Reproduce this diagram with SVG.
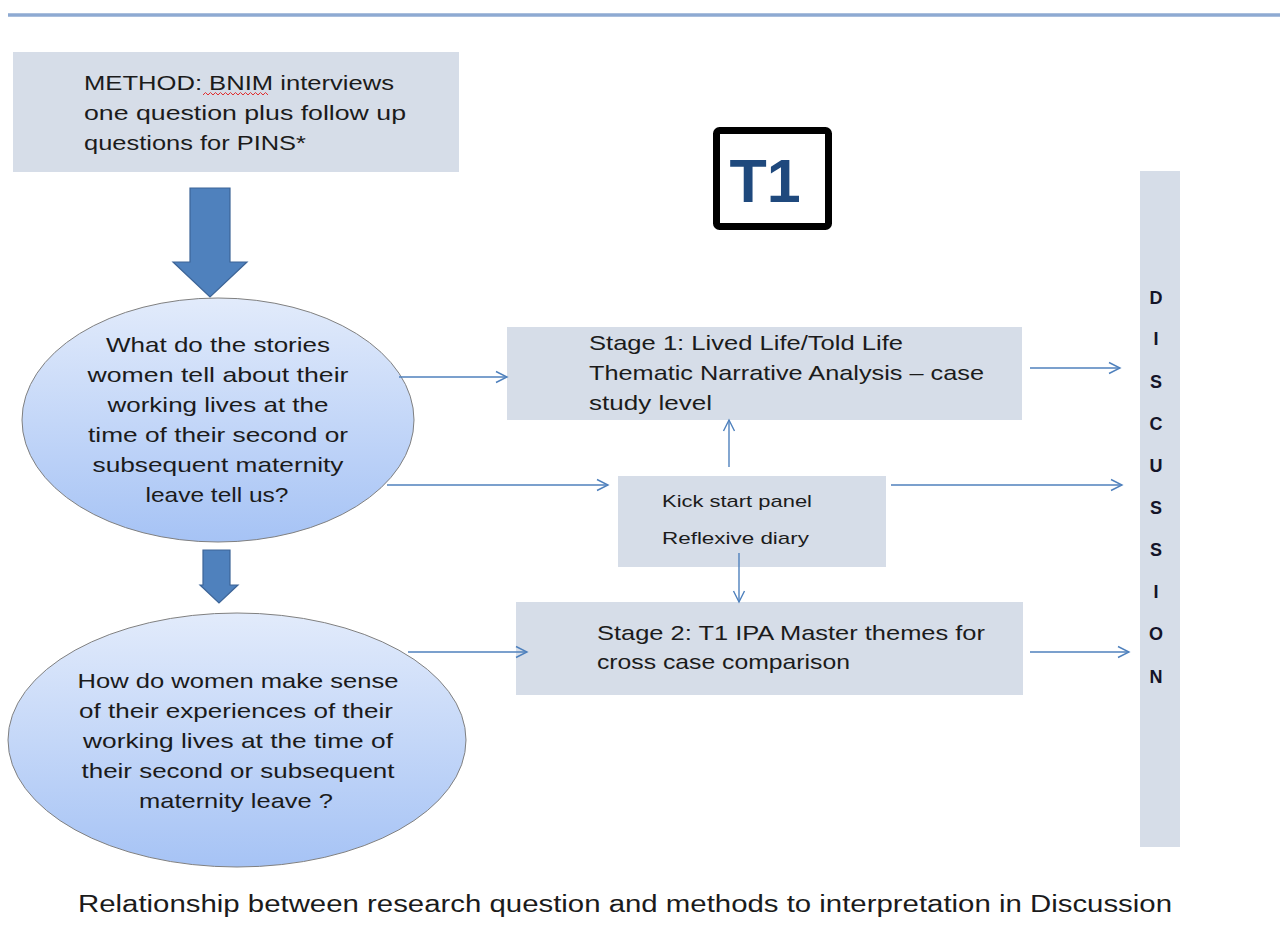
<svg xmlns="http://www.w3.org/2000/svg" width="1280" height="945" viewBox="0 0 1280 945">
<defs>
<linearGradient id="ellGrad" x1="0" y1="0" x2="0" y2="1">
<stop offset="0" stop-color="#e2ebfb"/>
<stop offset="1" stop-color="#a6c3f5"/>
</linearGradient>
<marker id="arr" markerUnits="userSpaceOnUse" markerWidth="14" markerHeight="14" viewBox="0 0 14 14" refX="12" refY="7" orient="auto">
<path d="M1,1.5 L12,7 L1,12.5" fill="none" stroke="#4f81bd" stroke-width="1.4"/>
</marker>
<style>
.box{fill:#d6dde8;}
.ell{fill:url(#ellGrad);stroke:#808080;stroke-width:1;}
.big{fill:#4f81bd;stroke:#3c6497;stroke-width:1.2;}
.t{font-family:"Liberation Sans",Arial,sans-serif;fill:#1b1b1b;}
.s21{font-size:21px;}
.s17{font-size:17px;}
.c{text-anchor:middle;}
.disc{font-family:"Liberation Sans",Arial,sans-serif;font-weight:bold;font-size:18px;fill:#141428;text-anchor:middle;}
.con{stroke:#4f81bd;stroke-width:1.4;fill:none;marker-end:url(#arr);}
</style>
</defs>
<rect width="1280" height="945" fill="#ffffff"/>
<line x1="8" y1="15" x2="1280" y2="15" stroke="#8eaad2" stroke-width="3.5"/>

<g id="method">
<rect class="box" x="13" y="52" width="446" height="120"/>
<text class="t s21" x="84" y="90" textLength="310" lengthAdjust="spacingAndGlyphs">METHOD: BNIM interviews</text>
<text class="t s21" x="84" y="120" textLength="322" lengthAdjust="spacingAndGlyphs">one question plus  follow up</text>
<text class="t s21" x="84" y="150" textLength="222" lengthAdjust="spacingAndGlyphs">questions for PINS*</text>
<path d="M203,95 l2.5,-2.5 l2.5,2.5 l2.5,-2.5 l2.5,2.5 l2.5,-2.5 l2.5,2.5 l2.5,-2.5 l2.5,2.5 l2.5,-2.5 l2.5,2.5 l2.5,-2.5 l2.5,2.5 l2.5,-2.5 l2.5,2.5 l2.5,-2.5 l2.5,2.5 l2.5,-2.5 l2.5,2.5 l2.5,-2.5 l2.5,2.5 l2.5,-2.5 l2.5,2.5 l2.5,-2.5 l2.5,2.5 l2.5,-2.5 l2.5,2.5" fill="none" stroke="#e03030" stroke-width="1"/>
</g>

<g id="bigArrow1">
<path class="big" d="M190,188 H230 V262 H247 L210,297 L173,262 H190 Z"/>
</g>

<g id="t1">
<rect x="716.5" y="130.5" width="112" height="96" rx="3" fill="#ffffff" stroke="#000000" stroke-width="7"/>
<text x="765" y="202" font-family="'Liberation Sans',Arial,sans-serif" font-weight="bold" font-size="61" fill="#1f497d" text-anchor="middle">T1</text>
</g>

<g id="question1">
<ellipse class="ell" cx="218" cy="420" rx="196" ry="122"/>
<text class="t s21 c" x="218" y="352" textLength="224" lengthAdjust="spacingAndGlyphs">What do the stories</text>
<text class="t s21 c" x="218" y="382" textLength="261" lengthAdjust="spacingAndGlyphs">women tell about their</text>
<text class="t s21 c" x="218" y="412" textLength="221" lengthAdjust="spacingAndGlyphs">working lives at the</text>
<text class="t s21 c" x="218" y="442" textLength="260" lengthAdjust="spacingAndGlyphs">time of their second or</text>
<text class="t s21 c" x="218" y="472" textLength="251" lengthAdjust="spacingAndGlyphs">subsequent maternity</text>
<text class="t s21 c" x="217" y="502" textLength="143" lengthAdjust="spacingAndGlyphs">leave tell us?</text>
</g>

<g id="bigArrow2">
<path class="big" d="M203,550 H230 V585 H238 L219,603 L200,585 H203 Z"/>
</g>

<g id="question2">
<ellipse class="ell" cx="237" cy="740" rx="229" ry="127"/>
<text class="t s21 c" x="238" y="688" textLength="321" lengthAdjust="spacingAndGlyphs">How do women make sense</text>
<text class="t s21 c" x="236" y="718" textLength="314" lengthAdjust="spacingAndGlyphs">of their experiences of their</text>
<text class="t s21 c" x="238" y="748" textLength="310" lengthAdjust="spacingAndGlyphs">working lives at the time of</text>
<text class="t s21 c" x="238" y="778" textLength="313" lengthAdjust="spacingAndGlyphs">their second or subsequent</text>
<text class="t s21 c" x="236" y="808" textLength="194" lengthAdjust="spacingAndGlyphs">maternity leave ?</text>
</g>

<g id="stage1">
<rect class="box" x="507" y="327" width="515" height="93"/>
<text class="t s21" x="589" y="350" textLength="314" lengthAdjust="spacingAndGlyphs">Stage  1:  Lived Life/Told Life</text>
<text class="t s21" x="589" y="380" textLength="395" lengthAdjust="spacingAndGlyphs">Thematic Narrative  Analysis – case</text>
<text class="t s21" x="589" y="410" textLength="123" lengthAdjust="spacingAndGlyphs">study level</text>
</g>

<g id="kickstart">
<rect class="box" x="618" y="476" width="268" height="91"/>
<text class="t s17" x="662" y="507" textLength="150" lengthAdjust="spacingAndGlyphs">Kick start panel</text>
<text class="t s17" x="662" y="544" textLength="147" lengthAdjust="spacingAndGlyphs">Reflexive diary</text>
</g>

<g id="stage2">
<rect class="box" x="516" y="602" width="507" height="93"/>
<text class="t s21" x="597" y="640" textLength="388" lengthAdjust="spacingAndGlyphs">Stage 2: T1  IPA Master themes for</text>
<text class="t s21" x="597" y="669" textLength="253" lengthAdjust="spacingAndGlyphs">cross case comparison</text>
</g>

<g id="discussion">
<rect class="box" x="1140" y="171" width="40" height="676"/>
<text class="disc" x="1156" y="304">D</text>
<text class="disc" x="1156" y="345">I</text>
<text class="disc" x="1156" y="388">S</text>
<text class="disc" x="1156" y="430">C</text>
<text class="disc" x="1156" y="472">U</text>
<text class="disc" x="1156" y="514">S</text>
<text class="disc" x="1156" y="556">S</text>
<text class="disc" x="1156" y="598">I</text>
<text class="disc" x="1156" y="640">O</text>
<text class="disc" x="1156" y="683">N</text>
</g>

<g id="connectors">
<line class="con" x1="399" y1="377" x2="507" y2="377"/>
<line class="con" x1="387" y1="485" x2="608" y2="485"/>
<line class="con" x1="408" y1="652" x2="527" y2="652"/>
<line class="con" x1="729" y1="467" x2="729" y2="420"/>
<line class="con" x1="739" y1="553" x2="739" y2="602"/>
<line class="con" x1="1030" y1="368" x2="1120" y2="368"/>
<line class="con" x1="891" y1="485" x2="1122" y2="485"/>
<line class="con" x1="1030" y1="652" x2="1129" y2="652"/>
</g>

<g id="caption">
<text class="t" x="78" y="912" font-size="23" textLength="1094" lengthAdjust="spacingAndGlyphs">Relationship between research question and methods to interpretation in Discussion</text>
</g>
</svg>
